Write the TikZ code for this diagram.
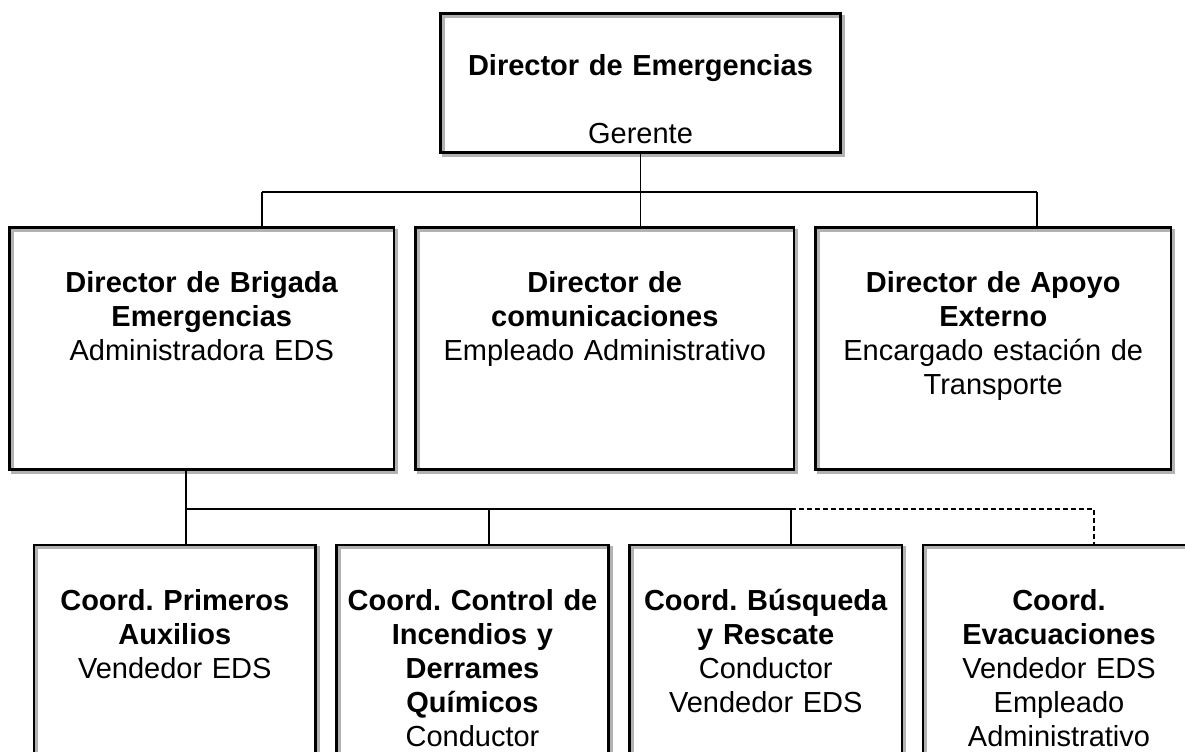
\documentclass[tikz,border=0pt]{standalone}
\usepackage{fontspec}
\setmainfont{Liberation Sans}
\frenchspacing
\usetikzlibrary{positioning}
\tikzset{
  orgbox/.style={draw=black, line width=1.35pt, inner sep=0pt, outer sep=0pt,
    preaction={draw=gray!60, line width=1.35pt,
      transform canvas={shift={(1.35pt,-1.35pt)}}}},
  boxtext/.style={text width=190pt, align=center, anchor=base, inner sep=0pt,
    font=\fontsize{14.5pt}{17pt}\selectfont},
  link/.style={line width=0.9pt},
  dashlink/.style={line width=0.9pt, dash pattern=on 2.5pt off 1.5pt},
}

\begin{document}
\begin{tikzpicture}[x=0.5pt, y=-0.5pt]
      \path[use as bounding box, clip] (0,0) rectangle (1185,751);

      \node[orgbox, minimum width=200pt, minimum height=69.5pt, anchor=north west] (dir) at (440.5,13.5) {};

      \node[orgbox, minimum width=192.25pt, minimum height=121pt, anchor=north west] (brig) at (9.5,227.5) {};
      \node[orgbox, minimum width=189.25pt, minimum height=121pt, right=10.75pt of brig] (comu) {};
      \node[orgbox, minimum width=177.75pt, minimum height=121pt, right=10.75pt of comu] (apoyo) {};

      \node[orgbox, minimum width=140.75pt, minimum height=130pt, anchor=north west] (prim) at (34,545) {};
      \node[orgbox, minimum width=136pt, minimum height=130pt, right=10.5pt of prim] (ctrl) {};
      \node[orgbox, minimum width=136.25pt, minimum height=130pt, right=10.5pt of ctrl] (busq) {};
      \node[orgbox, minimum width=136pt, minimum height=130pt, right=10.5pt of busq] (evac) {};

      \node[boxtext] (tdir) at ([yshift=-30.75pt]dir.north) {\textbf{Director de Emergencias}\\[17pt]Gerente};
      \node[boxtext] (tbrig) at ([yshift=-32.25pt]brig.north) {\textbf{Director de Brigada}\\\textbf{Emergencias}\\Administradora EDS};
      \node[boxtext] (tcomu) at ([yshift=-32.25pt]comu.north) {\textbf{Director de}\\\textbf{comunicaciones}\\Empleado Administrativo};
      \node[boxtext] (tapoyo) at ([yshift=-32.25pt]apoyo.north) {\textbf{Director de Apoyo}\\\textbf{Externo}\\Encargado estación de\\Transporte};
      \node[boxtext] (tprim) at ([yshift=-32.5pt]prim.north) {\textbf{Coord. Primeros}\\\textbf{Auxilios}\\Vendedor EDS};
      \node[boxtext] (tctrl) at ([yshift=-32.5pt]ctrl.north) {\textbf{Coord. Control de}\\\textbf{Incendios y}\\\textbf{Derrames}\\\textbf{Químicos}\\Conductor};
      \node[boxtext] (tbusq) at ([yshift=-32.5pt]busq.north) {\textbf{Coord. Búsqueda}\\\textbf{y Rescate}\\Conductor\\Vendedor EDS};
      \node[boxtext] (tevac) at ([yshift=-32.5pt]evac.north) {\textbf{Coord.}\\\textbf{Evacuaciones}\\Vendedor EDS\\Empleado\\Administrativo};

      \coordinate (busA) at (262,192);
      \coordinate (busB) at (1037,192);
      \coordinate (busC) at (186,509);
      \coordinate (busM) at (489,509);
      \coordinate (busD) at (791,509);
      \coordinate (busE) at (1094,509);

      \draw[link] (dir.south) -- (dir.south |- comu.north);
      \draw[link] (busA) -- (busB);
      \draw[link] (busA) -- (busA |- brig.north);
      \draw[link] (busB) -- (busB |- apoyo.north);

      \draw[link] (busC |- brig.south) -- (busC |- prim.north);
      \draw[link] (busC) -- (busD) -- (busD |- busq.north);
      \draw[link] (busM) -- (busM |- ctrl.north);
      \draw[dashlink] (busD) -- (busE) -- (busE |- evac.north);
\end{tikzpicture}
\end{document}
